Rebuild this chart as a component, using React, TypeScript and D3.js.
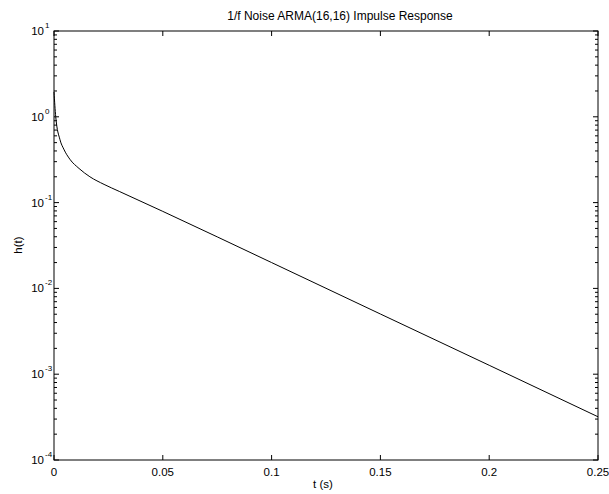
import React from "react";
import * as d3 from "d3";

const tValues = [0, 0.0008, 0.00276, 0.0045, 0.0073, 0.0115, 0.0165, 0.023, 0.03, 0.05, 0.1, 0.15, 0.2, 0.25];
const hValues = [1.95, 1.0, 0.54, 0.42, 0.32, 0.25, 0.2, 0.163, 0.135, 0.079, 0.02, 0.00503, 0.00127, 0.000319];
const xTicks = [0, 0.05, 0.1, 0.15, 0.2, 0.25];
const xTickLabels = ["0", "0.05", "0.1", "0.15", "0.2", "0.25"];
const yExponents = [1, 0, -1, -2, -3, -4];
const title = "1/f Noise ARMA(16,16) Impulse Response";
const xLabel = "t (s)";
const yLabel = "h(t)";

const W = 609;
const H = 494;
const L = 54, R = 598, T = 31, B = 460;
const FONT = "'Liberation Sans', Arial, Helvetica, sans-serif";
const FS = 11.5;

export default function App() {
  const x = d3.scaleLinear().domain([0, 0.25]).range([L, R]);
  const y = d3.scaleLog().domain([1e-4, 10]).range([B, T]);
  const line = d3
    .line<number>()
    .x((_, i) => x(tValues[i]))
    .y((d) => y(d))
    .curve(d3.curveMonotoneX);
  const path = line(hValues) || "";

  const minor: number[] = [];
  for (let e = -4; e < 1; e++) {
    for (let k = 2; k <= 9; k++) minor.push(k * Math.pow(10, e));
  }

  return (
    <svg width={W} height={H} style={{ position: "absolute", left: 0, top: 0, background: "#fff" }} fontFamily={FONT}>
      <rect x={0} y={0} width={W} height={H} fill="#fff" />
      {xTicks.map((t, i) => (
        <g key={"xt" + i}>
          <line x1={x(t)} x2={x(t)} y1={B} y2={B - 5} stroke="#000" />
          <line x1={x(t)} x2={x(t)} y1={T} y2={T + 5} stroke="#000" />
          <text x={x(t)} y={476} fontSize={FS} textAnchor="middle" fill="#000">
            {xTickLabels[i]}
          </text>
        </g>
      ))}
      {yExponents.map((e) => {
        const yy = y(Math.pow(10, e));
        return (
          <g key={"yt" + e}>
            <line x1={L} x2={L + 5} y1={yy} y2={yy} stroke="#000" />
            <line x1={R} x2={R - 5} y1={yy} y2={yy} stroke="#000" />
            <text x={44} y={yy + 4} fontSize={FS} textAnchor="end" fill="#000">
              10
            </text>
            <text x={45} y={yy - 3} fontSize={8} textAnchor="start" fill="#000">
              {String(e)}
            </text>
          </g>
        );
      })}
      {minor.map((v, i) => (
        <g key={"ym" + i}>
          <line x1={L} x2={L + 3} y1={y(v)} y2={y(v)} stroke="#000" />
          <line x1={R} x2={R - 3} y1={y(v)} y2={y(v)} stroke="#000" />
        </g>
      ))}
      <rect x={L} y={T} width={R - L} height={B - T} fill="none" stroke="#000" strokeWidth={1} />
      <path d={path} fill="none" stroke="#000" strokeWidth={1} />
      <text x={340} y={20} fontSize={FS + 0.5} textAnchor="middle" fill="#000">
        {title}
      </text>
      <text x={323} y={488} fontSize={FS} textAnchor="middle" fill="#000">
        {xLabel}
      </text>
      <text transform={`translate(22,245) rotate(-90)`} fontSize={FS} textAnchor="middle" fill="#000">
        {yLabel}
      </text>
    </svg>
  );
}
